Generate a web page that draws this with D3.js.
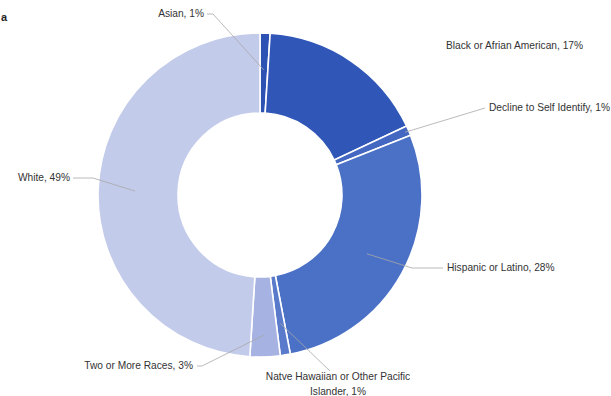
<!DOCTYPE html>
<html><head><meta charset="utf-8">
<script src="https://cdn.jsdelivr.net/npm/d3@7"></script>
<style>body{margin:0;background:#fff}svg{display:block}</style>
</head><body>
<script>
const categories = ["Asian","Black or Afrian American","Decline to Self Identify","Hispanic or Latino","Native Hawaiian or Other Pacific Islander","Two or More Races","White"];
const values = [1,17,1,28,1,3,49];
const labels = ["Asian, 1%","Black or Afrian American, 17%","Decline to Self Identify, 1%","Hispanic or Latino, 28%","Natve Hawaiian or Other Pacific|Islander, 1%","Two or More Races, 3%","White, 49%"];
const colors = ["#2c52b4","#3057b8","#4468c1","#4b71c6","#5a7bcb","#a6b3e2","#c3cbea"];

const W=611,H=396, cx=260, cy=195, R=162, r=82;
const svg=d3.select("body").append("svg").attr("width",W).attr("height",H);
svg.append("text").attr("x",1).attr("y",21).attr("font-family","Liberation Sans, Arial").attr("font-size",11).attr("font-weight","bold").attr("fill","#222").text("a");

const pie=d3.pie().value(d=>d).sort(null).startAngle(0).endAngle(2*Math.PI);
const arcs=pie(values);
const arc=d3.arc().innerRadius(r).outerRadius(R);
const g=svg.append("g").attr("transform",`translate(${cx},${cy})`);
g.selectAll("path").data(arcs).join("path").attr("d",arc)
  .attr("fill",(d,i)=>colors[i]).attr("stroke","#fff").attr("stroke-width",1.6);

// label layout
const layout=[
  {x:204,y:17,a:"end",lx:207,ex:213,lr:125},
  {x:446,y:49,a:"start",lx:null},
  {x:489,y:111,a:"start",lx:485,ex:485,lr:158},
  {x:447,y:271,a:"start",lx:443,ex:412,lr:122},
  {x:338,y:380,a:"middle",lx:330,ex:330,lr:130,ly:371},
  {x:193,y:369,a:"end",lx:197,ex:202,lr:140},
  {x:70,y:181,a:"end",lx:73,ex:93,lr:125}
];
const font="Liberation Sans, Arial, sans-serif";
arcs.forEach((d,i)=>{
  const L=layout[i];
  const lines=labels[i].split("|");
  const t=svg.append("text").attr("x",L.x).attr("y",L.y).attr("text-anchor",L.a)
    .attr("font-family",font).attr("font-size",10.2).attr("fill","#333");
  lines.forEach((s,k)=>t.append("tspan").attr("x",L.x).attr("dy",k?15:0).text(s));
  if(L.lx!=null){
    const m=(d.startAngle+d.endAngle)/2;
    const px=cx+L.lr*Math.sin(m), py=cy-L.lr*Math.cos(m);
    const ly=(L.ly!=null?L.ly:L.y-3);
    svg.append("polyline").attr("points",`${L.lx},${ly} ${L.ex},${ly} ${px},${py}`)
      .attr("fill","none").attr("stroke","#a8a8a8").attr("stroke-width",0.8);
  }
});
</script>
</body></html>
